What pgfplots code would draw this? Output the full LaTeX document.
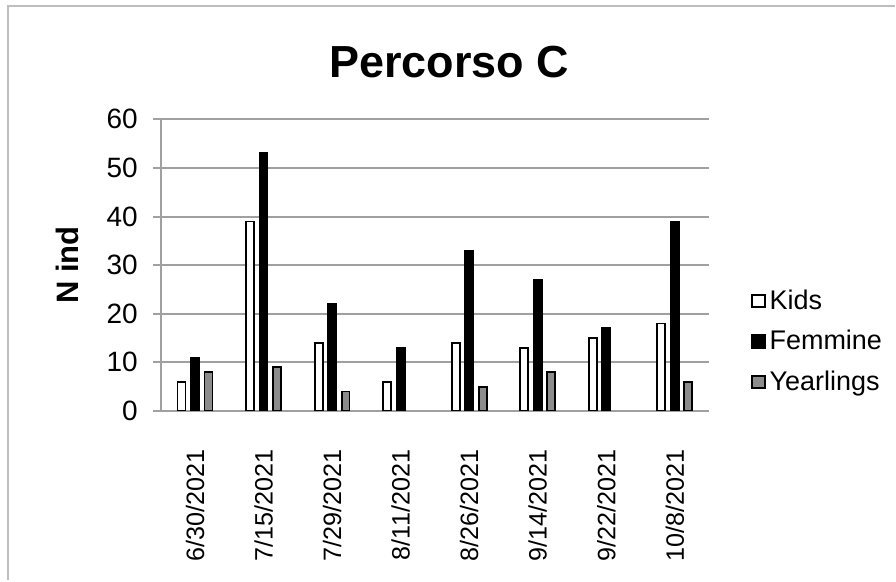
\documentclass[border=0pt]{standalone}
\usepackage{fontspec}
\setmainfont{Liberation Sans}
\usepackage{pgfplots}
\pgfplotsset{compat=1.18}

\definecolor{gridgray}{RGB}{160,160,160}
\definecolor{framegray}{RGB}{190,190,190}
\definecolor{yeargray}{RGB}{140,140,140}

\begin{document}
\begin{tikzpicture}
% picture bounds (896x581 px at 0.5pt per px), origin at axis corner
\fill[white] (-80.5pt,-84.75pt) rectangle (367.5pt,205.75pt);
\draw[framegray, line width=1.2pt] (-76.5pt,-84.75pt) -- (-76.5pt,202.75pt) -- (367.5pt,202.75pt);

\begin{axis}[
    at={(0pt,0pt)}, anchor=south west,
    scale only axis,
    width=274.5pt, height=146pt,
    ybar=2.75pt, bar width=4pt,
    xmin=-0.5, xmax=7.5,
    ymin=0, ymax=60,
    ytick={0,10,...,60},
    xtick={0,...,7},
    xticklabels={6/30/2021,7/15/2021,7/29/2021,8/11/2021,8/26/2021,9/14/2021,9/22/2021,10/8/2021},
    x tick label style={rotate=90, anchor=east, font=\fontsize{12.6}{14}\selectfont, xshift=-12pt},
    y tick label style={font=\fontsize{14}{16}\selectfont, xshift=-4pt},
    /pgf/number format/assume math mode=true,
    ymajorgrids=true,
    grid style={gridgray, line width=1pt},
    axis x line*=bottom, axis y line*=left,
    axis line style={gridgray, line width=1pt, -},
    xtick style={draw=none},
    ytick style={gridgray, line width=1pt},
    major tick length=4pt,
    tick align=outside,
    legend style={draw=none, fill=none, at={(295.5pt,34.75pt)}, anchor=west,
        font=\fontsize{13.5}{15}\selectfont, row sep=5pt, inner sep=0pt},
    legend cell align=left,
    legend image code/.code={\draw[#1, line width=0.9pt, draw=black] (0pt,-3.1pt) rectangle (6.2pt,3.1pt);},
]
\addplot[draw=black, fill=white, line width=0.9pt] coordinates {
    (0,6) (1,39) (2,14) (3,6) (4,14) (5,13) (6,15) (7,18)};
\addlegendentry{Kids}
\addplot[draw=black, fill=black, line width=0.9pt] coordinates {
    (0,11) (1,53) (2,22) (3,13) (4,33) (5,27) (6,17) (7,39)};
\addlegendentry{Femmine}
% no yearlings on 8/11 and 9/22
\addplot[draw=black, fill=yeargray, line width=0.9pt] coordinates {
    (0,8) (1,9) (2,4) (4,5) (5,8) (7,6)};
\addlegendentry{Yearlings}
\end{axis}

\node[font=\fontsize{22.5}{26}\selectfont\bfseries] at (144.5pt,174.5pt) {Percorso C};
\node[font=\fontsize{15.5}{17}\selectfont\bfseries, rotate=90] at (-46.5pt,73pt) {N ind};
\end{tikzpicture}
\end{document}
